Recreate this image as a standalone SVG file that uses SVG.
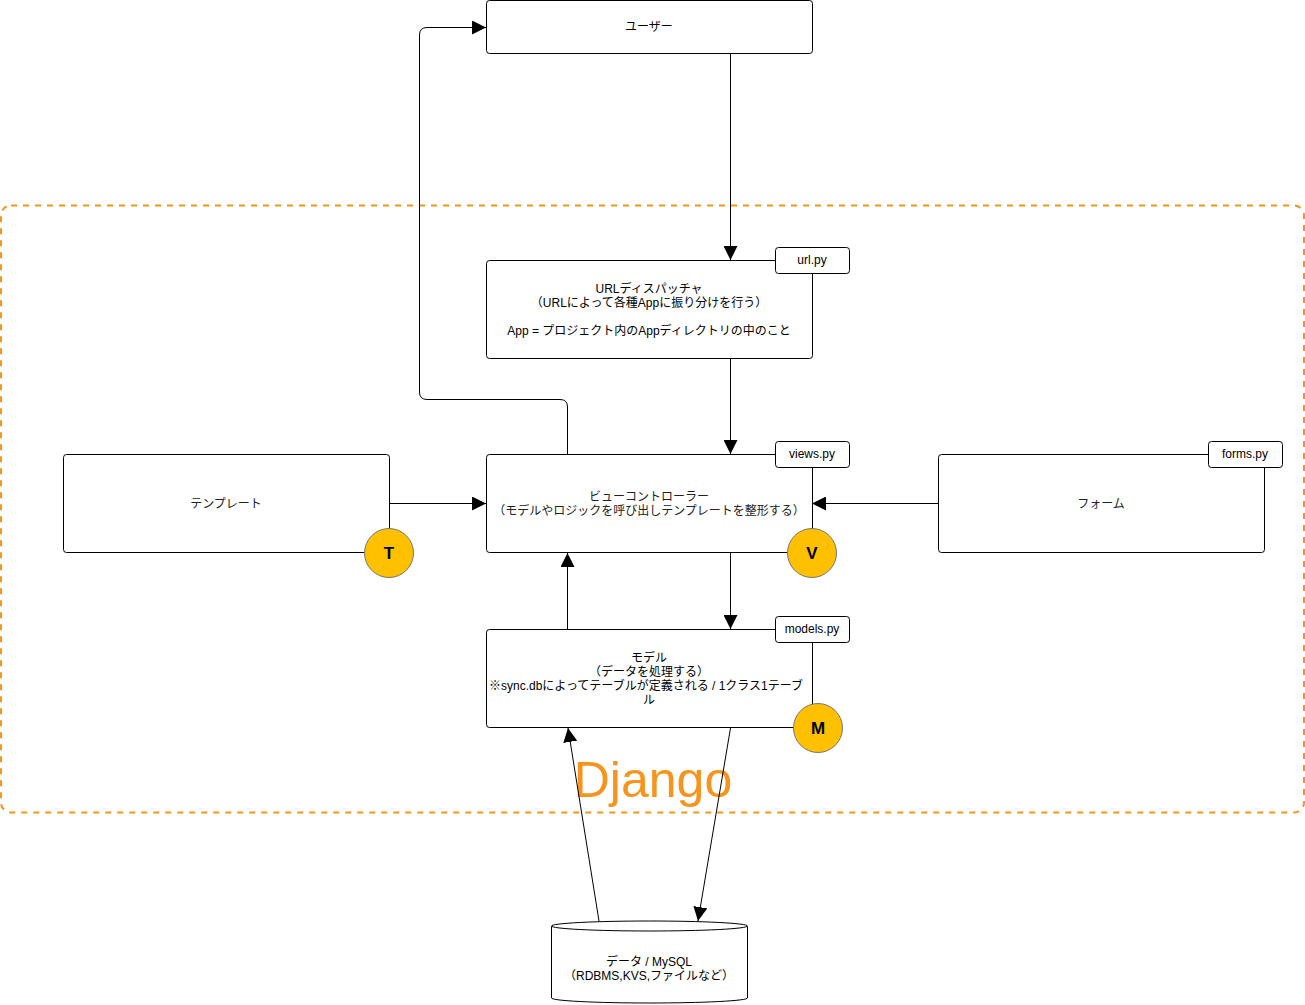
<svg xmlns="http://www.w3.org/2000/svg" width="1305" height="1005" viewBox="0 0 1305 1005">
<defs>
<style>
.box{fill:#fff;stroke:#000;stroke-width:1}
.tag{fill:#fff;stroke:#000;stroke-width:1}
.t{font-family:"Liberation Sans","Noto Sans CJK JP",sans-serif;font-size:12px;fill:#000;text-anchor:middle}
.g{fill:#222}
.circ{fill:#FFC000;stroke:#777;stroke-width:1}
.cl{font-family:"Liberation Sans",sans-serif;font-size:17px;font-weight:bold;fill:#000;text-anchor:middle}
.ln{fill:none;stroke:#000;stroke-width:1}
</style>
<marker id="ah2" markerWidth="14" markerHeight="14" viewBox="0 0 14 14" refX="14" refY="7" orient="auto" markerUnits="userSpaceOnUse">
<path d="M0,0 L14,7 L0,14 Z" fill="#000"/>
</marker>
</defs>

<g id="django-frame">
<rect x="1" y="205.5" width="1303" height="607" rx="10" fill="none" stroke="#F7941D" stroke-width="2" stroke-dasharray="6 6"/>
<text x="653" y="797" font-family="Liberation Sans, Helvetica, sans-serif" font-size="50" fill="#F7941D" text-anchor="middle">Django</text>
</g>

<g id="connectors">
<line class="ln" x1="730.5" y1="54" x2="730.5" y2="260" marker-end="url(#ah2)"/>
<line class="ln" x1="730.5" y1="359" x2="730.5" y2="454" marker-end="url(#ah2)"/>
<path class="ln" d="M567.5,454 V407 Q567.5,399.5 560,399.5 H427 Q419.5,399.5 419.5,392 V35 Q419.5,27.5 427,27.5 H486" marker-end="url(#ah2)"/>
<line class="ln" x1="389" y1="503.5" x2="486" y2="503.5" marker-end="url(#ah2)"/>
<line class="ln" x1="938" y1="503.5" x2="812" y2="503.5" marker-end="url(#ah2)"/>
<line class="ln" x1="730.5" y1="553" x2="730.5" y2="629" marker-end="url(#ah2)"/>
<line class="ln" x1="567.5" y1="629" x2="567.5" y2="553" marker-end="url(#ah2)"/>
<line class="ln" x1="730.5" y1="728" x2="698" y2="921" marker-end="url(#ah2)"/>
<line class="ln" x1="599" y1="921" x2="568" y2="728" marker-end="url(#ah2)"/>
</g>

<g id="user">
<rect class="box" x="486.5" y="0.5" width="326" height="53" rx="3"/>
<text class="t" x="649" y="31">ユーザー</text>
</g>

<g id="url-dispatcher">
<rect class="box" x="486.5" y="260.5" width="326" height="98" rx="3"/>
<text class="t" x="649" y="293">URLディスパッチャ</text>
<text class="t" x="649" y="307">（URLによって各種Appに振り分けを行う）</text>
<text class="t" x="649" y="335">App = プロジェクト内のAppディレクトリの中のこと</text>
</g>
<g id="url-py">
<rect class="tag" x="775.5" y="247.5" width="74" height="26" rx="3"/>
<text class="t" x="812" y="264">url.py</text>
</g>

<g id="view">
<rect class="box" x="486.5" y="454.5" width="326" height="98" rx="3"/>
<text class="t g" x="649" y="501">ビューコントローラー</text>
<text class="t g" x="649" y="515">（モデルやロジックを呼び出しテンプレートを整形する）</text>
</g>
<g id="views-py">
<rect class="tag" x="775.5" y="441.5" width="74" height="26" rx="3"/>
<text class="t" x="812" y="458">views.py</text>
</g>
<g id="v-badge">
<circle class="circ" cx="812" cy="553" r="24.5"/>
<text class="cl" x="812" y="559">V</text>
</g>

<g id="template">
<rect class="box" x="63.5" y="454.5" width="326" height="98" rx="3"/>
<text class="t g" x="226" y="508">テンプレート</text>
</g>
<g id="t-badge">
<circle class="circ" cx="389" cy="553" r="24.5"/>
<text class="cl" x="389" y="559">T</text>
</g>

<g id="form">
<rect class="box" x="938.5" y="454.5" width="326" height="98" rx="3"/>
<text class="t g" x="1101" y="508">フォーム</text>
</g>
<g id="forms-py">
<rect class="tag" x="1208.5" y="441.5" width="74" height="26" rx="3"/>
<text class="t" x="1245" y="458">forms.py</text>
</g>

<g id="model">
<rect class="box" x="486.5" y="629.5" width="326" height="98" rx="3"/>
<text class="t" x="649" y="662">モデル</text>
<text class="t" x="649" y="676">（データを処理する）</text>
<text class="t" x="646" y="690">※sync.dbによってテーブルが定義される / 1クラス1テーブ</text>
<text class="t" x="649" y="704">ル</text>
</g>
<g id="models-py">
<rect class="tag" x="775.5" y="616.5" width="74" height="26" rx="3"/>
<text class="t" x="812" y="633">models.py</text>
</g>
<g id="m-badge">
<circle class="circ" cx="818" cy="728" r="24.5"/>
<text class="cl" x="818" y="734">M</text>
</g>

<g id="database">
<path d="M551.5,926 V998 A98,5 0 0 0 747.5,998 V926" fill="#fff" stroke="#000" stroke-width="1"/>
<ellipse cx="649.5" cy="926" rx="98" ry="5" fill="#fff" stroke="#000" stroke-width="1"/>
<text class="t" x="649" y="966">データ / MySQL</text>
<text class="t" x="649" y="980">（RDBMS,KVS,ファイルなど）</text>
</g>
</svg>
